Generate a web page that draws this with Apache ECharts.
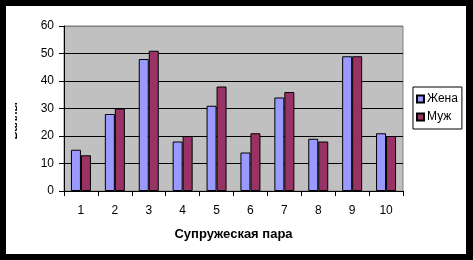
<!DOCTYPE html>
<html>
<head>
<meta charset="utf-8">
<script src="https://cdn.jsdelivr.net/npm/echarts@6/dist/echarts.min.js"></script>
<style>
html,body{margin:0;padding:0;background:#000;}
#outer{position:relative;width:473px;height:260px;background:#000;overflow:hidden;}
#chart{position:absolute;left:6px;top:6px;width:460px;height:248px;background:#fff;}
</style>
</head>
<body>
<div id="outer"><div id="chart"></div></div>
<script>
var categories = ['1','2','3','4','5','6','7','8','9','10'];
var wifeValues = [15, 28, 48, 18, 31, 14, 34, 19, 49, 21];
var husbandValues = [13, 30, 51, 20, 38, 21, 36, 18, 49, 20];
var seriesNames = ['Жена', 'Муж'];
var xAxisTitle = 'Супружеская пара';
var yAxisTitle = 'Баллы';

var chart = echarts.init(document.getElementById('chart'), null, {renderer: 'canvas'});
var font = 'Liberation Sans, Arial, sans-serif';
chart.setOption({
  animation: false,
  backgroundColor: '#fff',
  grid: {
    left: 58, top: 20, width: 339, height: 165,
    show: true, backgroundColor: '#C0C0C0', borderColor: '#808080', borderWidth: 1
  },
  legend: {
    orient: 'vertical',
    left: 407, top: 81,
    padding: [6, 4, 6, 3],
    itemGap: 6,
    itemWidth: 7, itemHeight: 7,
    icon: 'rect',
    backgroundColor: '#fff',
    borderColor: '#000', borderWidth: 1, borderRadius: 0,
    textStyle: {fontFamily: font, fontSize: 12, color: '#000', padding: [0,0,0,-2]},
    data: seriesNames
  },
  xAxis: {
    type: 'category',
    data: categories,
    name: xAxisTitle,
    nameLocation: 'middle',
    nameGap: 37,
    nameTextStyle: {fontFamily: font, fontSize: 13, fontWeight: 'bold', color: '#000'},
    axisLine: {lineStyle: {color: '#000', width: 1}},
    axisTick: {show: true, length: 5, inside: false, lineStyle: {color: '#000'}},
    axisLabel: {fontFamily: font, fontSize: 12, color: '#000', margin: 14},
    splitLine: {show: false}
  },
  yAxis: {
    type: 'value',
    min: 0, max: 60, interval: 10,
    axisLine: {show: true, lineStyle: {color: '#000', width: 1}},
    axisTick: {show: true, length: 5, lineStyle: {color: '#000'}},
    axisLabel: {fontFamily: font, fontSize: 12, color: '#000', margin: 10},
    splitLine: {show: true, lineStyle: {color: ['#000','#000','#000','#000','#000','#000','#808080'], width: 1}}
  },
  graphic: [
    {type: 'text', left: 2, top: 96, rotation: Math.PI/2, z: 10,
     style: {text: yAxisTitle, font: 'bold 11px ' + font, fill: '#000'}},
    {type: 'rect', shape: {x: 0, y: 80, width: 9, height: 70}, z: 11,
     style: {fill: '#fff'}}
  ],
  series: [
    {name: seriesNames[0], type: 'bar', data: wifeValues, barWidth: 10, barGap: '0%',
     itemStyle: {color: '#9999FF', borderColor: '#000', borderWidth: 1}},
    {name: seriesNames[1], type: 'bar', data: husbandValues, barWidth: 10, barGap: '0%',
     itemStyle: {color: '#993366', borderColor: '#000', borderWidth: 1}}
  ]
});
</script>
</body>
</html>
